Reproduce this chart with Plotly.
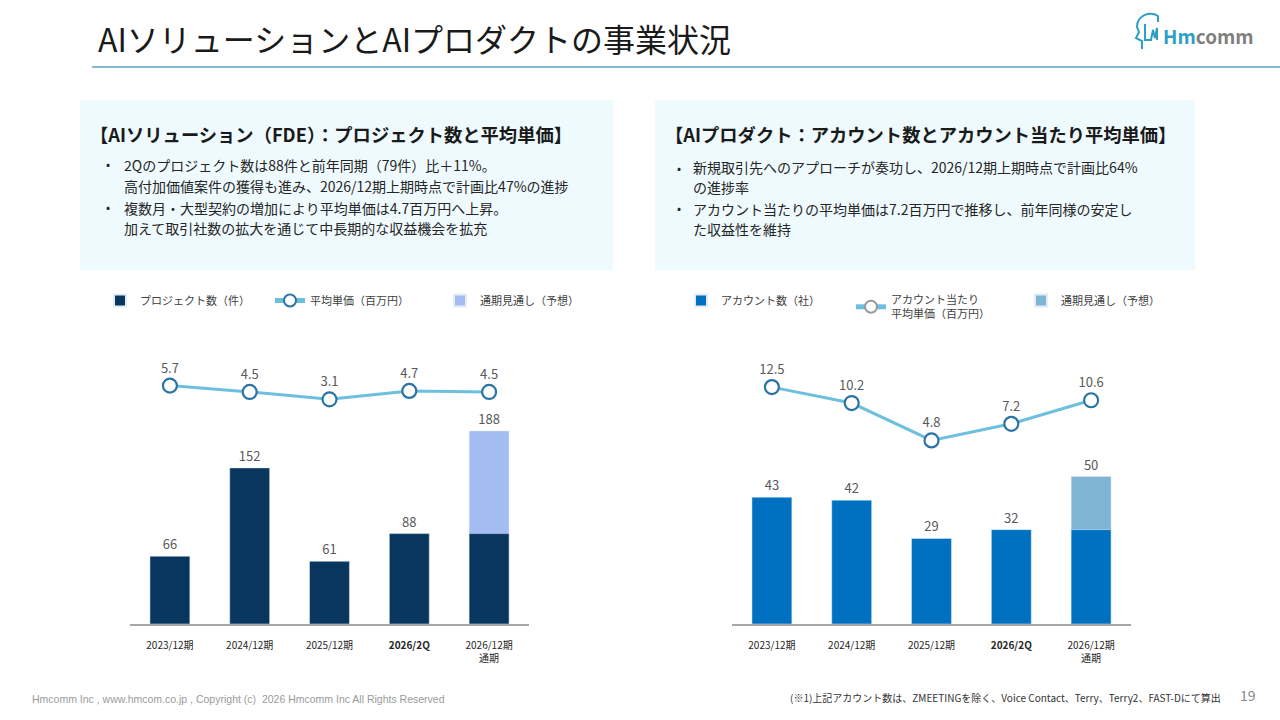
import plotly.graph_objects as go

# ---- data ----
periods = ["2023/12期", "2024/12期", "2025/12期", "2026/2Q", "2026/12期 通期"]
tick_labels = ["2023/12期", "2024/12期", "2025/12期", "<b>2026/2Q</b>", "2026/12期<br>通期"]

fde_projects = [66, 152, 61, 88, 88]
fde_forecast = [None, None, None, None, 188]
fde_unit_price = [5.7, 4.5, 3.1, 4.7, 4.5]

prod_accounts = [43, 42, 29, 32, 32]
prod_forecast = [None, None, None, None, 50]
prod_unit_price = [12.5, 10.2, 4.8, 7.2, 10.6]

FONT = "Noto Sans CJK JP"
GRAY_TXT = "#595959"


def bar_text(vals, skip_last=False):
    out = []
    for i, v in enumerate(vals):
        if v is None or (skip_last and i == len(vals) - 1):
            out.append("")
        else:
            out.append(str(v))
    return out


fig = go.Figure()

# ---- left chart: AI solution ----
fig.add_trace(go.Bar(
    x=periods, y=fde_forecast, name="通期見通し（予想）", marker_color="#a3bdf3",
    width=0.5, text=bar_text(fde_forecast), textposition="outside", cliponaxis=False,
    textfont=dict(size=13, color=GRAY_TXT), xaxis="x", yaxis="y",
    legend="legend", legendrank=3,
))
fig.add_trace(go.Bar(
    x=periods, y=fde_projects, name="プロジェクト数（件）", marker_color="#08365f",
    width=0.5, text=bar_text(fde_projects, skip_last=True), textposition="outside",
    cliponaxis=False, textfont=dict(size=13, color=GRAY_TXT), xaxis="x", yaxis="y",
    legend="legend", legendrank=1,
))
fig.add_trace(go.Scatter(
    x=periods, y=fde_unit_price, name="平均単価（百万円）", mode="lines+markers+text",
    line=dict(color="#6dc0dd", width=3),
    marker=dict(symbol="circle", size=14, color="white", line=dict(color="#2a73a5", width=2.2)),
    text=[f"{v:.1f}" for v in fde_unit_price], textposition="top center",
    textfont=dict(size=13, color=GRAY_TXT), cliponaxis=False,
    xaxis="x", yaxis="y2", legend="legend", legendrank=2,
))

# ---- right chart: AI product ----
fig.add_trace(go.Bar(
    x=periods, y=prod_forecast, name="通期見通し（予想）", marker_color="#7fb4d4",
    width=0.5, text=bar_text(prod_forecast), textposition="outside", cliponaxis=False,
    textfont=dict(size=13, color=GRAY_TXT), xaxis="x2", yaxis="y3",
    legend="legend2", legendrank=3,
))
fig.add_trace(go.Bar(
    x=periods, y=prod_accounts, name="アカウント数（社）", marker_color="#0070c0",
    width=0.5, text=bar_text(prod_accounts, skip_last=True), textposition="outside",
    cliponaxis=False, textfont=dict(size=13, color=GRAY_TXT), xaxis="x2", yaxis="y3",
    legend="legend2", legendrank=1,
))
fig.add_trace(go.Scatter(
    x=periods, y=prod_unit_price, mode="lines+markers+text", showlegend=False,
    line=dict(color="#6dc0dd", width=3),
    marker=dict(symbol="circle", size=14, color="white", line=dict(color="#2a73a5", width=2.2)),
    text=[f"{v:.1f}" for v in prod_unit_price], textposition="top center",
    textfont=dict(size=13, color=GRAY_TXT), cliponaxis=False,
    xaxis="x2", yaxis="y4",
))
# legend entry only (grey outlined marker as in the original legend)
fig.add_trace(go.Scatter(
    x=[None], y=[None], name="アカウント当たり<br>平均単価（百万円）", mode="lines+markers",
    line=dict(color="#6dc0dd", width=3),
    marker=dict(symbol="circle", size=12, color="white", line=dict(color="#9a9a9a", width=2)),
    xaxis="x2", yaxis="y4", legend="legend2", legendrank=2,
))

# ---- axes ----
W, H = 1280, 720
y_bottom = 1 - 624 / H
y_top = 1 - 340 / H

xcommon = dict(
    type="category", categoryorder="array", categoryarray=periods,
    tickmode="array", tickvals=periods, ticktext=tick_labels,
    range=[-0.5, 4.5], showgrid=False, zeroline=False,
    showline=True, linecolor="#a6a6a6", linewidth=2, ticks="",
    tickfont=dict(size=10, color="#262626", family=FONT), ticklabelstandoff=11,
    fixedrange=True,
)
fig.update_layout(
    xaxis=dict(domain=[130 / W, 529 / W], anchor="y", **xcommon),
    xaxis2=dict(domain=[732 / W, 1131 / W], anchor="y3", **xcommon),
    yaxis=dict(domain=[y_bottom, y_top], range=[0, 276.5], visible=False, anchor="x"),
    yaxis2=dict(domain=[y_bottom, y_top], range=[-39.4, 14.33], visible=False,
                overlaying="y", anchor="x"),
    yaxis3=dict(domain=[y_bottom, y_top], range=[0, 96.3], visible=False, anchor="x2"),
    yaxis4=dict(domain=[y_bottom, y_top], range=[-21.7, 19.3], visible=False,
                overlaying="y3", anchor="x2"),
    barmode="overlay",
)

# ---- legends ----
legend_style = dict(
    orientation="h", xanchor="left", yanchor="top", bgcolor="rgba(0,0,0,0)",
    font=dict(size=11, color="#404040", family=FONT), entrywidth=125,
    entrywidthmode="pixels", traceorder="normal", itemsizing="constant",
)
fig.update_layout(
    legend=dict(x=100 / W, y=1 - 286 / H, **legend_style),
    legend2=dict(x=681 / W, y=1 - 286 / H, **legend_style),
)

# ---- page decorations ----
shapes = [
    dict(type="line", xref="paper", yref="paper", x0=92 / W, x1=1.0,
         y0=1 - 67 / H, y1=1 - 67 / H, line=dict(color="#86b7cc", width=2)),
    dict(type="rect", xref="paper", yref="paper", x0=80 / W, x1=613 / W,
         y0=1 - 270 / H, y1=1 - 100 / H, fillcolor="#eefafd", line=dict(width=0),
         layer="below"),
    dict(type="rect", xref="paper", yref="paper", x0=655 / W, x1=1195 / W,
         y0=1 - 270 / H, y1=1 - 100 / H, fillcolor="#eefafd", line=dict(width=0),
         layer="below"),
    # simple head outline for the logo
    dict(type="path", xref="paper", yref="paper",
         path=(f"M {1142/W},{1-49/H} L {1142/W},{1-41/H} L {1136/W},{1-38/H} "
               f"L {1139/W},{1-32/H} L {1137/W},{1-27/H} "
               f"C {1137/W},{1-15/H} {1150/W},{1-11/H} {1158/W},{1-16/H} "
               f"L {1158/W},{1-22/H}"),
         line=dict(color="#2c9fc4", width=2)),
    dict(type="path", xref="paper", yref="paper",
         path=(f"M {1145/W},{1-24/H} L {1145/W},{1-40/H} L {1151/W},{1-40/H} "
               f"L {1153/W},{1-30/H} L {1155/W},{1-38/H} L {1157/W},{1-28/H} L {1157/W},{1-40/H}"),
         line=dict(color="#2c9fc4", width=2)),
]
fig.update_layout(shapes=shapes)


def txt(x, y, s, size, color="#262626", xanchor="left", yanchor="middle", align="left"):
    fig.add_annotation(
        x=x / W, y=1 - y / H, xref="paper", yref="paper", text=s, showarrow=False,
        xanchor=xanchor, yanchor=yanchor, align=align,
        font=dict(size=size, color=color, family=FONT),
    )


txt(96, 38, "AIソリューションとAIプロダクトの事業状況", 32, "#1a1a1a")
txt(1161, 35, "<b><span style='color:#2c9fc4'>Hm</span><span style='color:#7f7f7f'>comm</span></b>", 19)

txt(88, 134, "<b>【AIソリューション（FDE）：プロジェクト数と平均単価】</b>", 18.3, "#1a1a1a")
txt(104, 164, "•", 12)
txt(122, 165, "2Qのプロジェクト数は88件と前年同期（79件）比＋11%。", 14)
txt(122, 186, "高付加価値案件の獲得も進み、2026/12期上期時点で計画比47%の進捗", 14)
txt(104, 207, "•", 12)
txt(122, 208, "複数月・大型契約の増加により平均単価は4.7百万円へ上昇。", 14)
txt(122, 228, "加えて取引社数の拡大を通じて中長期的な収益機会を拡充", 14)

txt(663, 134, "<b>【AIプロダクト：アカウント数とアカウント当たり平均単価】</b>", 18.3, "#1a1a1a")
txt(675, 167, "•", 12)
txt(691, 167, "新規取引先へのアプローチが奏功し、2026/12期上期時点で計画比64%", 14)
txt(691, 187, "の進捗率", 14)
txt(675, 208, "•", 12)
txt(691, 209, "アカウント当たりの平均単価は7.2百万円で推移し、前年同様の安定し", 14)
txt(691, 229, "た収益性を維持", 14)

fig.add_annotation(
    x=30 / W, y=1 - 699 / H, xref="paper", yref="paper", showarrow=False,
    xanchor="left", yanchor="middle",
    text="Hmcomm Inc , www.hmcom.co.jp , Copyright (c)  2026 Hmcomm Inc All Rights Reserved",
    font=dict(size=10.5, color="#9a9a9a", family="Liberation Sans Narrow, Liberation Sans"),
)
txt(1223, 697, "(※1)上記アカウント数は、ZMEETINGを除く、Voice Contact、Terry、Terry2、FAST-Dにて算出",
    10, "#333333", xanchor="right")
txt(1258, 695, "19", 14, "#8a8a8a", xanchor="right")

fig.update_layout(
    width=W, height=H, margin=dict(l=0, r=0, t=0, b=0),
    paper_bgcolor="white", plot_bgcolor="rgba(0,0,0,0)",
    font=dict(family=FONT),
)

fig.write_html(
    "out.html",
    config={"displayModeBar": False},
    post_script="document.body.style.margin='0';document.body.style.overflow='hidden';",
)
